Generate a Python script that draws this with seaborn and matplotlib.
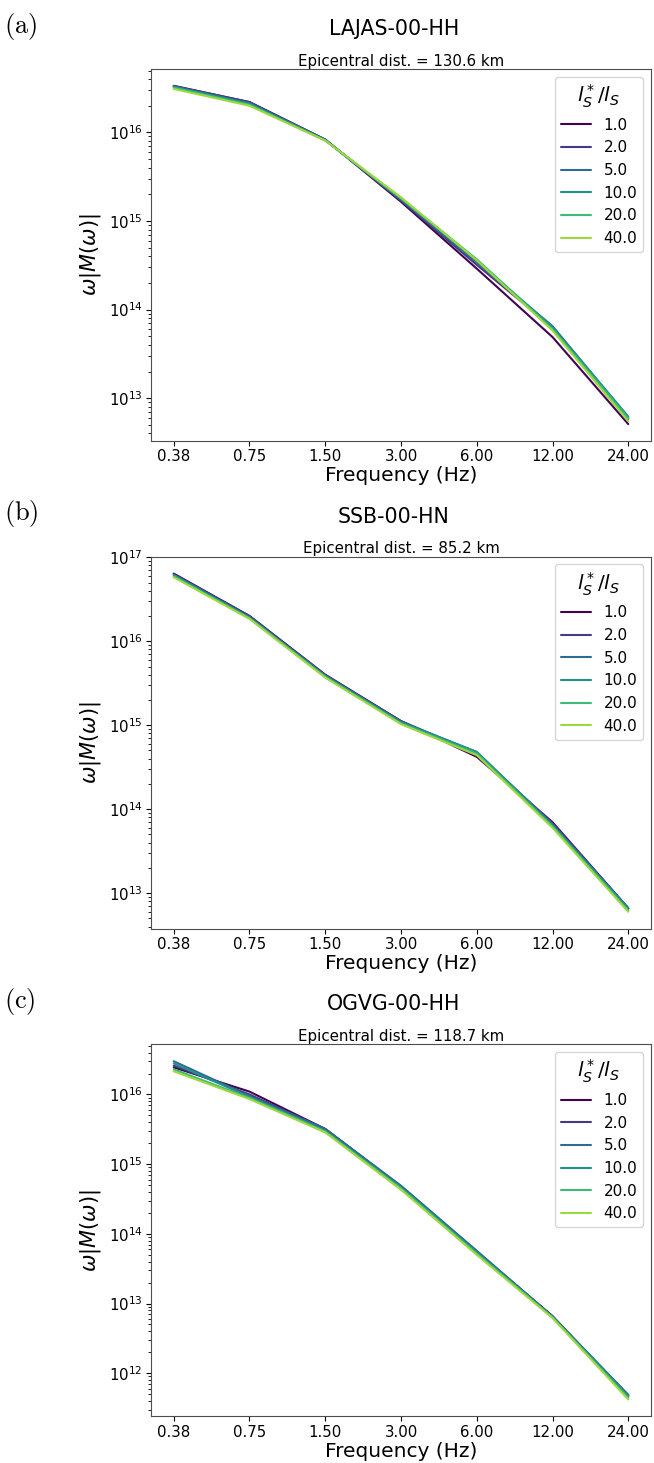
import numpy as np
import pandas as pd
import seaborn as sns
import matplotlib.pyplot as plt
from matplotlib.ticker import NullLocator

##DATA ....
freqs = [0.375, 0.75, 1.5, 3.0, 6.0, 12.0, 24.0]
freq_labels = ['0.38', '0.75', '1.50', '3.00', '6.00', '12.00', '24.00']
ratios = ['1.0', '2.0', '5.0', '10.0', '20.0', '40.0']
panels = ['(a)', '(b)', '(c)']
stations = ['LAJAS-00-HH', 'SSB-00-HN', 'OGVG-00-HH']
distances = [130.6, 85.2, 118.7]

# one row per ratio, one column per frequency
lajas = [
    [3.35e16, 2.20e16, 8.3e15, 1.65e15, 2.9e14, 4.9e13, 5.1e12],
    [3.35e16, 2.20e16, 8.3e15, 1.70e15, 3.2e14, 6.3e13, 5.8e12],
    [3.30e16, 2.15e16, 8.2e15, 1.75e15, 3.4e14, 6.5e13, 6.1e12],
    [3.25e16, 2.10e16, 8.2e15, 1.80e15, 3.6e14, 6.3e13, 6.2e12],
    [3.20e16, 2.05e16, 8.1e15, 1.80e15, 3.7e14, 6.0e13, 5.9e12],
    [3.10e16, 2.00e16, 8.1e15, 1.85e15, 3.6e14, 5.8e13, 5.5e12],
]
ssb = [
    [6.4e16, 2.00e16, 4.00e15, 1.12e15, 4.2e14, 7.0e13, 6.6e12],
    [6.3e16, 2.00e16, 3.95e15, 1.12e15, 4.6e14, 6.8e13, 6.6e12],
    [6.2e16, 1.95e16, 3.90e15, 1.10e15, 4.8e14, 6.6e13, 6.6e12],
    [6.1e16, 1.90e16, 3.85e15, 1.08e15, 4.8e14, 6.4e13, 6.5e12],
    [5.9e16, 1.88e16, 3.75e15, 1.05e15, 4.6e14, 6.2e13, 6.2e12],
    [5.8e16, 1.85e16, 3.70e15, 1.03e15, 4.4e14, 6.0e13, 6.0e12],
]
ogvg = [
    [2.45e16, 1.10e16, 3.20e15, 4.7e14, 5.5e13, 6.6e12, 4.6e11],
    [2.60e16, 1.00e16, 3.20e15, 4.8e14, 5.6e13, 6.5e12, 4.8e11],
    [3.00e16, 9.50e15, 3.20e15, 4.9e14, 5.7e13, 6.5e12, 4.9e11],
    [2.80e16, 9.20e15, 3.00e15, 4.6e14, 5.4e13, 6.4e12, 4.7e11],
    [2.30e16, 8.90e15, 2.95e15, 4.5e14, 5.2e13, 6.3e12, 4.4e11],
    [2.15e16, 8.60e15, 2.85e15, 4.3e14, 5.0e13, 6.2e12, 4.2e11],
]
spectra = [lajas, ssb, ogvg]

##STYLE ....
sns.set_style('ticks')
plt.rcParams['font.family'] = ['DejaVu Sans']
for key in ['text.color', 'axes.labelcolor', 'xtick.color', 'ytick.color']:
    plt.rcParams[key] = 'black'
cmap = sns.color_palette('viridis', as_cmap=True)
colors = dict(zip(ratios, [cmap(v) for v in np.linspace(0, 0.85, len(ratios))]))

W, H = 654, 1463
fig = plt.figure(figsize=(W / 100, H / 100), dpi=100)
step = H / 3.0

for k, (spec, name, dist, tag) in enumerate(zip(spectra, stations, distances, panels)):
    top = 69 + step * k
    ax = fig.add_axes([151 / W, 1 - (top + 372) / H, 500 / W, 372 / H])

    ##LONG FORMAT FOR SEABORN ....
    df = pd.DataFrame({
        'freq': np.tile(freqs, len(ratios)),
        'amp': np.ravel(spec),
        'ratio': np.repeat(ratios, len(freqs)),
    })
    sns.lineplot(data=df, x='freq', y='amp', hue='ratio', hue_order=ratios,
                 palette=colors, errorbar=None, linewidth=1.5, ax=ax)

    ax.set_yscale('log')
    ax.set_xscale('log', base=2)
    ax.set_xticks(freqs)
    ax.set_xticklabels(freq_labels)
    ax.xaxis.set_minor_locator(NullLocator())
    ax.tick_params(labelsize=10.8, pad=2.5)
    for s in ax.spines.values():
        s.set_visible(True)
        s.set_color('0.3')

    ax.set_xlabel('Frequency (Hz)', fontsize=14.5, labelpad=1.5)
    ax.set_ylabel(r'$\omega|M(\omega)|$', fontsize=15)
    ax.set_title('Epicentral dist. = %.1f km' % dist, fontsize=10.8, pad=2.5)

    leg = ax.legend(title=r'$l_S^*/l_S$', loc='upper right', fontsize=11,
                    title_fontsize=14.5)

    fig.text(394 / W, 1 - (top - 34) / H, name, ha='center', va='baseline',
             fontsize=14.8)
    fig.text(4 / W, 1 - (top - 43) / H, r'$\mathrm{(%s)}$' % tag[1],
             ha='left', va='center', fontsize=19, math_fontfamily='cm')

fig.savefig('out.png', dpi=100)
